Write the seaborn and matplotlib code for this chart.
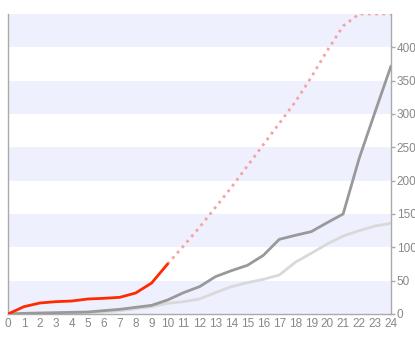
import matplotlib
matplotlib.use("Agg")
import matplotlib.pyplot as plt
import seaborn as sns
import pandas as pd

# ---- data ----
hours = list(range(25))
actual_x = list(range(11))
actual = [0, 11, 16.5, 18.5, 19.5, 22.5, 23.5, 25, 31.5, 46.5, 75]
projected_x = list(range(10, 25))
projected = [75, 102, 130, 160, 190, 222, 254, 286, 318, 355, 395, 432, 450, 450, 450]
dark_series = [0, 1, 1.5, 2, 2.5, 3, 5, 7, 10, 13, 21, 32, 41, 56, 65, 73, 88, 112, 118,
               123.5, 137, 150, 233, 303, 372]
light_series = [0, 0.5, 1, 1, 1.5, 2, 3, 5, 8, 11, 16, 18.5, 22.5, 32, 41, 47, 52, 58.5,
                77.5, 91, 105, 117, 125, 132, 136]
y_ticks = list(range(0, 401, 50))
x_ticks = list(range(25))

sns.set_style("white")
plt.rcParams['font.family'] = ['Liberation Sans', 'DejaVu Sans']

fig = plt.figure(figsize=(4.15, 3.39), dpi=100)
ax = fig.add_axes([8/415, (339-314)/339, (391-8)/415, (314-14)/339])

# bands
band_color = "#eef0fd"
for lo in y_ticks[::2]:
    ax.axhspan(lo, lo + 50, color=band_color, lw=0, zorder=0)

sns.lineplot(x=hours, y=light_series, ax=ax, color="#d9d9d9", lw=2, zorder=2)
sns.lineplot(x=hours, y=dark_series, ax=ax, color="#999999", lw=2, zorder=3)
sns.lineplot(x=projected_x, y=projected, ax=ax, color="#f5a3a3", lw=2,
             linestyle=(0, (1, 1.6)), zorder=4)
sns.lineplot(x=actual_x, y=actual, ax=ax, color="#ff2a00", lw=2, zorder=5)

ax.set_xlim(0, 24)
ax.set_ylim(0, 450)
ax.set_xticks(x_ticks)
ax.set_xticklabels([str(v) for v in x_ticks])
ax.set_yticks(y_ticks)
ax.yaxis.tick_right()
ax.tick_params(axis='y', right=True, left=False, length=3, width=1, color="#aaaaaa",
               labelcolor="#888888", labelsize=8.5, pad=1)
ax.tick_params(axis='x', bottom=False, length=0, labelcolor="#888888", labelsize=8.5, pad=3)

for s in ['left', 'right', 'bottom']:
    ax.spines[s].set_visible(True)
    ax.spines[s].set_color("#aaaaaa")
    ax.spines[s].set_linewidth(1)
ax.spines['top'].set_visible(False)
ax.grid(False)
ax.set_xlabel("")
ax.set_ylabel("")

fig.savefig("out.png", dpi=100)
